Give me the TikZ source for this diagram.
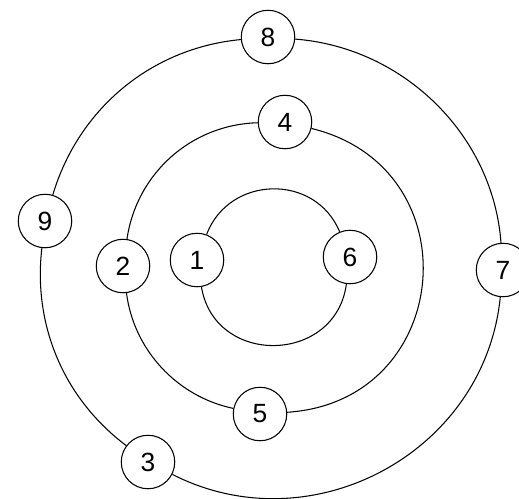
\documentclass[tikz,border=0pt]{standalone}
\usepackage{fontspec}
\setmainfont{Liberation Sans}
\usetikzlibrary{positioning}

\begin{document}
\begin{tikzpicture}[
    x=0.02cm, y=-0.02cm,
    num/.style={
        circle, 
        draw, 
        fill=white, 
        minimum size=1.07cm, 
        inner sep=0pt,
        line width=0.6pt,
        font=\fontsize{15}{15}\selectfont
    },
    orbit/.style={
        draw, 
        line width=0.6pt
    }
]
    \useasboundingbox (0,0) rectangle (519,498);

    % --- Nodes ---

    % Outer ring
    \node [num] (n8) at (268,37) {8};
    \node [num] (n9) at (45,221) {9};
    \node [num] (n3) at (148,462) {3};
    \node [num] (n7) at (503,270) {7};

    % Middle ring
    \node [num] (n4) at (285,122) {4};
    \node [num] (n2) at (123,266) {2};
    \node [num] (n5) at (260,414) {5};

    % Inner ring
    \node [num] (n1) at (197,260) {1};
    \node [num] (n6) at (350,257) {6};

    % --- Connections ---

    % Outer ring
    \draw [orbit] (n7) to[out=94.3, in=-4.5, distance=2.17cm] (n8);
    \draw [orbit] (n8) to[out=185.5, in=73.5, distance=1.8cm] (n9);
    \draw [orbit] (n9) to[out=263.5, in=143, distance=1.56cm] (n3);
    \draw [orbit] (n3) to[out=333, in=264.3, distance=3.13cm] (n7);

    % Middle ring
    \draw [orbit] (n4) to[out=181.8, in=81.9, distance=1.33cm] (n2);
    \draw [orbit] (n2) to[out=277.5, in=168.2, distance=1.15cm] (n5);
    \draw [orbit] (n5) to[out=3.8, in=-13.8, distance=3.34cm] (n4);

    % Inner ring
    \draw [orbit] (n6) to[out=112.5, in=69.5, distance=1.27cm] (n1);
    \draw [orbit] (n1) to[out=279.5, in=262.5, distance=1.62cm] (n6);

\end{tikzpicture}
\end{document}
